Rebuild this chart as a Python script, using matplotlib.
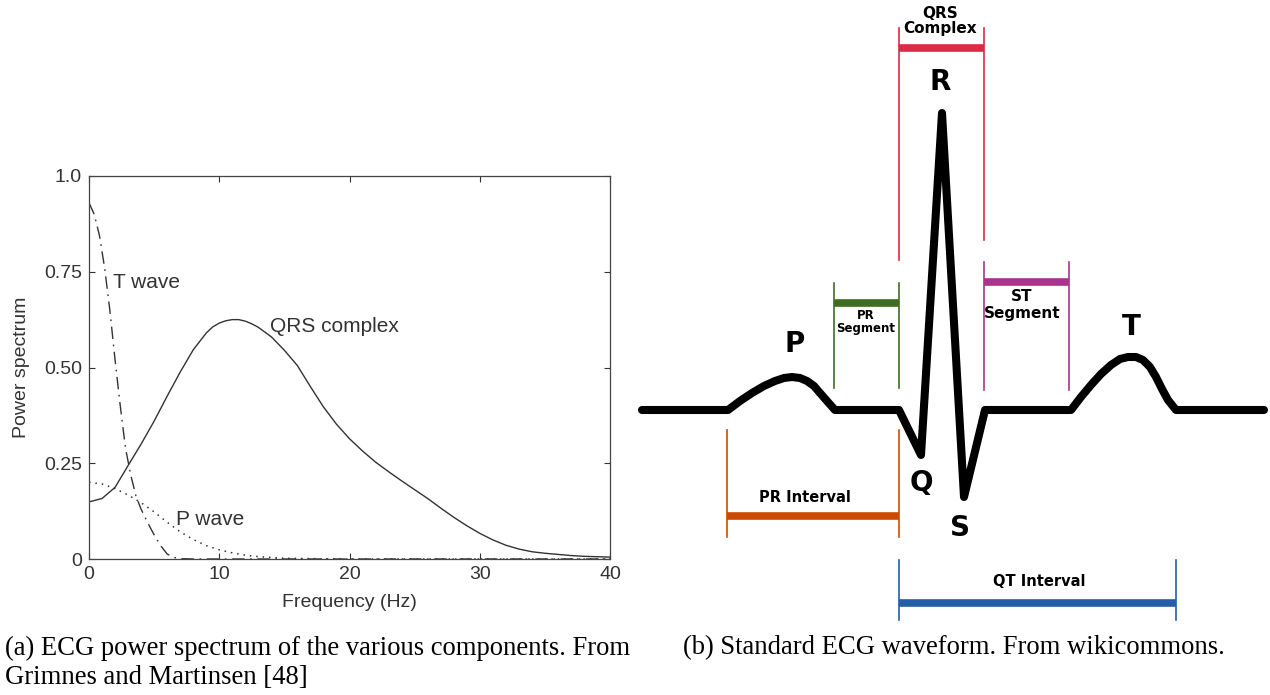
import numpy as np
import matplotlib
matplotlib.use('Agg')
import matplotlib.pyplot as plt

# ---- (a) ECG power spectrum data ----
qrs_f = [0, 1, 2, 3, 4, 5, 6, 7, 8, 9, 9.5, 10, 10.5, 11, 11.5, 12, 12.5, 13, 14, 15, 16, 17,
         18, 19, 20, 21, 22, 23, 24, 25, 26, 27, 28, 29, 30, 31, 32, 33, 34, 35, 36, 37,
         38, 39, 40]
qrs_p = [0.149, 0.158, 0.187, 0.244, 0.300, 0.360, 0.425, 0.488, 0.546, 0.590, 0.606,
         0.616, 0.622, 0.625, 0.625, 0.621, 0.614, 0.605, 0.580, 0.545, 0.505, 0.450,
         0.397, 0.352, 0.314, 0.282, 0.253, 0.228, 0.204, 0.181, 0.158, 0.133, 0.109,
         0.087, 0.067, 0.050, 0.036, 0.026, 0.019, 0.015, 0.012, 0.009, 0.007, 0.006,
         0.005]

t_f = [0.0, 0.4, 0.8, 1.2, 1.6, 2.0, 2.4, 2.8, 3.2, 3.6, 4.0, 4.5, 5.0, 5.5, 6.0, 6.5, 7.0, 8.0, 40.0]
t_p = [0.93, 0.90, 0.845, 0.76, 0.65, 0.52, 0.40, 0.29, 0.22, 0.165, 0.13, 0.095,
       0.063, 0.035, 0.013, 0.004, 0.001, 0.0, 0.0]

p_f = [0, 1, 2, 3, 4, 5, 6, 7, 8, 9, 10, 11, 12, 13, 14, 15, 17, 20, 40]
p_p = [0.200, 0.196, 0.184, 0.167, 0.147, 0.123, 0.096, 0.071, 0.051, 0.035, 0.024,
       0.016, 0.010, 0.006, 0.004, 0.002, 0.001, 0.0, 0.0]

x_ticks = [0, 10, 20, 30, 40]
y_ticks = [0, 0.25, 0.5, 0.75, 1.0]
y_tick_labels = ['0', '0.25', '0.50', '0.75', '1.0']

# ---- (b) standard ECG waveform (diagram units, y grows downwards) ----
ecg_t = [642, 728, 740, 752, 764, 775, 784, 792, 800, 807, 814, 820, 827, 835,
         899, 921, 942, 964, 985,
         1071, 1081, 1091, 1101, 1111, 1120, 1128, 1136, 1143, 1150, 1156, 1162, 1168, 1176,
         1264]
ecg_v = [410, 410, 401, 393, 386, 381, 378, 377, 378, 381, 386, 393, 401, 410,
         410, 455, 113, 497, 410,
         410, 397, 385, 374, 365, 359, 357, 357, 360, 367, 377, 389, 400, 410,
         410]

# interval brackets: name, start, end, bar level, line top, line bottoms, colour
brackets = [
    ('QRS', 899, 984, 48, 28, (260, 240), '#dc2a44'),
    ('PR seg', 834, 899, 303, 283, (388, 388), '#3f6e22'),
    ('ST seg', 984, 1069, 282, 262, (390, 390), '#a8358d'),
    ('PR int', 727, 899, 516, 430, (537, 537), '#cc4b02'),
    ('QT int', 899, 1176, 603, 560, (620, 620), '#255ea8'),
]

fig = plt.figure(figsize=(12.7, 6.95), dpi=100)

ink = '#333333'
sans = ['Liberation Sans', 'DejaVu Sans']

ax = fig.add_axes([89 / 1270, 1 - 559 / 695, 521 / 1270, 383 / 695])
ax.plot(qrs_f, qrs_p, color=ink, lw=1.0)
ax.plot(t_f, t_p, color=ink, lw=1.0, linestyle=(0, (9, 4, 1.2, 4)))
ax.plot(p_f, p_p, color=ink, lw=1.1, linestyle=(0, (1, 3.2)))
ax.set_xlim(0, 40)
ax.set_ylim(0, 1.0)
ax.set_xticks(x_ticks)
ax.set_yticks(y_ticks)
ax.set_yticklabels(y_tick_labels)
ax.tick_params(direction='in', top=True, right=True, length=4, width=0.8,
               colors=ink, labelsize=14, pad=5)
for lab in ax.get_xticklabels() + ax.get_yticklabels():
    lab.set_family(sans)
for sp in ax.spines.values():
    sp.set_color('#444444')
    sp.set_linewidth(0.9)
ax.set_xlabel('Frequency (Hz)', fontsize=14, family=sans, color=ink, labelpad=8)
ax.set_ylabel('Power spectrum', fontsize=14, family=sans, color=ink, labelpad=10)
ax.text(1.85, 0.722, 'T wave', fontsize=15, family=sans, color=ink, va='center')
ax.text(13.9, 0.607, 'QRS complex', fontsize=15, family=sans, color=ink, va='center')
ax.text(6.7, 0.104, 'P wave', fontsize=15, family=sans, color=ink, va='center')

# diagram axes in pixel-like units
dx = fig.add_axes([0, 0, 1, 1])
dx.set_xlim(0, 1270)
dx.set_ylim(695, 0)
dx.axis('off')
dx.patch.set_alpha(0)

for name, x0, x1, lvl, top, bots, col in brackets:
    dx.plot([x0, x0], [top, bots[0]], color=col, lw=1.2)
    dx.plot([x1, x1], [top, bots[1]], color=col, lw=1.2)
    dx.plot([x0, x1], [lvl, lvl], color=col, lw=5.5, solid_capstyle='butt')

dx.plot(ecg_t, ecg_v, color='black', lw=5.8, solid_joinstyle='round',
        solid_capstyle='round')

bold = dict(family='DejaVu Sans', weight='bold', color='black', ha='center', va='center')
dx.text(940, 21, 'QRS\nComplex', fontsize=11, linespacing=1.05, **bold)
dx.text(940, 82, 'R', fontsize=20, **bold)
dx.text(795, 344, 'P', fontsize=20, **bold)
dx.text(1131, 327, 'T', fontsize=20, **bold)
dx.text(921, 483, 'Q', fontsize=20, **bold)
dx.text(960, 528, 'S', fontsize=20, **bold)
dx.text(866, 322, 'PR\nSegment', fontsize=8.5, linespacing=0.95, **bold)
dx.text(1022, 305, 'ST\nSegment', fontsize=11, linespacing=1.1, **bold)
dx.text(805, 497, 'PR Interval', fontsize=10.5, **bold)
dx.text(1039, 582, 'QT Interval', fontsize=10.5, **bold)

serif = ['Liberation Serif', 'DejaVu Serif']
cap = dict(fontsize=19.2, family=serif, va='center', ha='left')
fig.text(5 / 1270, 1 - 648 / 695, '(a) ECG power spectrum of the various components. From', **cap)
fig.text(5 / 1270, 1 - 677 / 695, 'Grimnes and Martinsen [48]', **cap)
fig.text(683 / 1270, 1 - 648 / 695, '(b) Standard ECG waveform. From wikicommons.', **cap)

fig.savefig('out.png', dpi=100)
